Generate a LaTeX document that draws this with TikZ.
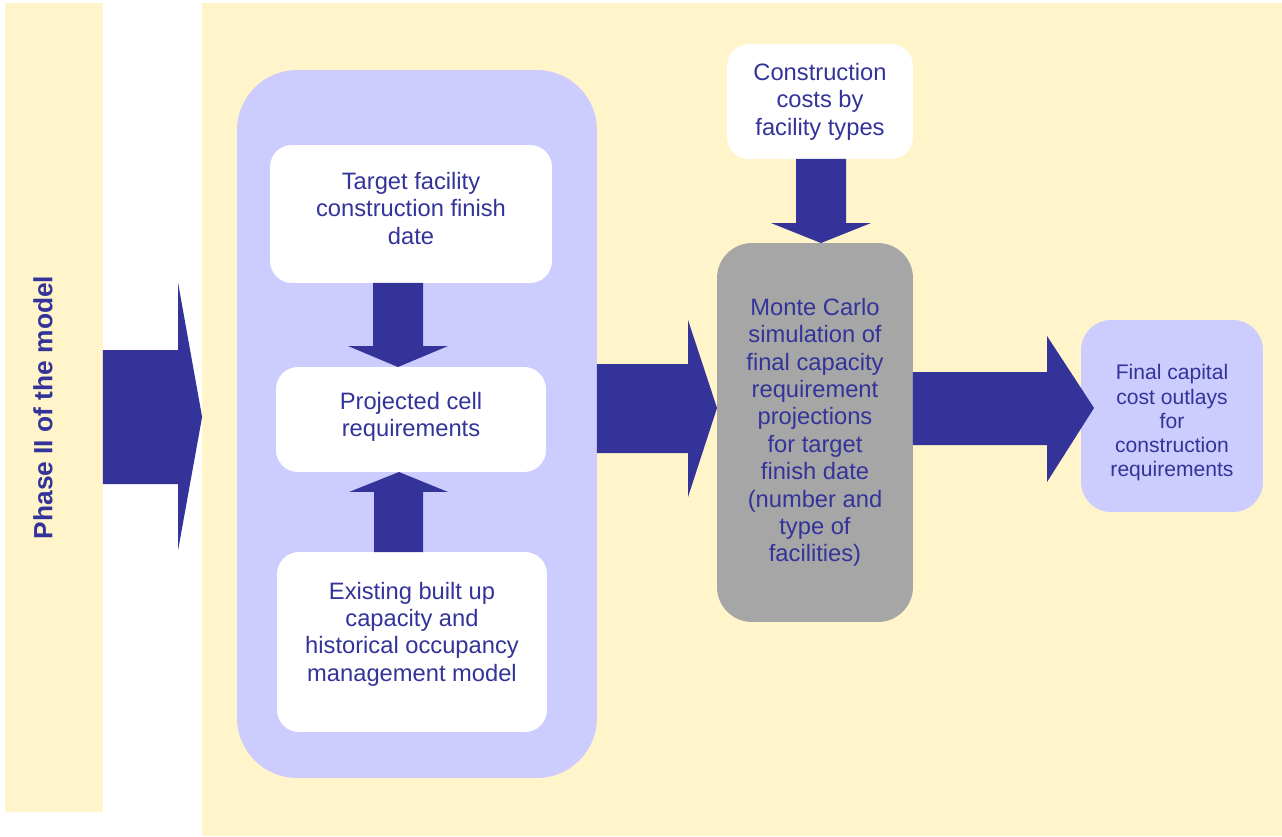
\documentclass[tikz,border=0pt]{standalone}
\usepackage{fontspec}
\setmainfont{Liberation Sans}
\usetikzlibrary{calc}
\definecolor{navy}{RGB}{51,51,153}
\definecolor{lavender}{RGB}{204,204,255}
\definecolor{cream}{RGB}{255,244,202}
\definecolor{simgray}{RGB}{166,166,166}

\begin{document}
\begin{tikzpicture}[x=0.02cm,y=-0.02cm,
    plain/.style={inner sep=0pt,outer sep=0pt},
    box/.style={plain,fill=white,rounded corners=0.44cm,text=navy,align=center,
      font=\fontsize{13.5}{15.6}\selectfont},
    bigarrow/.style={fill=navy,draw=none}]
  \useasboundingbox (0,0) rectangle (1282,836);
  \node[plain,fill=cream,minimum width=1.96cm,minimum height=16.18cm,text=navy,
    font=\fontsize{15}{18}\selectfont\bfseries] (band) at (54,407.5)
    {\rotatebox{90}{Phase II of the model}\kern0.44cm};
  \node[plain,fill=cream,minimum width=21.6cm,minimum height=16.66cm] (panel) at (742,419.5) {};
  \node[plain,fill=lavender,rounded corners=1.2cm,minimum width=7.2cm,minimum height=14.16cm] (lav) at (417,424) {};
  \begin{scope}[every node/.style={box}]
    \node[minimum width=5.64cm,minimum height=2.76cm] (target) at (411,214)
      {Target facility\\construction finish\\date\rule[-6.8pt]{0pt}{6.8pt}};
    \node[minimum width=5.4cm,minimum height=2.1cm] (proj) at (411,419.5)
      {Projected cell\\requirements\rule[-5.6pt]{0pt}{5.6pt}};
    \node[minimum width=5.4cm,minimum height=3.6cm] (exist) at (412,642)
      {Existing built up\\capacity and\\historical occupancy\\management model\rule[-11.8pt]{0pt}{11.8pt}};
    \node[minimum width=3.72cm,minimum height=2.3cm] (cost) at (820,101.5) {Construction\\costs by\\facility types};
    \node[fill=simgray,rounded corners=0.7cm,minimum width=3.92cm,minimum height=7.58cm] (sim) at (815,432.5)
      {Monte Carlo\\simulation of\\final capacity\\requirement\\projections\\for target\\finish date\\(number and\\type of\\facilities)};
    \node[fill=lavender,rounded corners=0.6cm,minimum width=3.64cm,minimum height=3.84cm,
      font=\fontsize{12}{13.8}\selectfont] (final) at (1172,416)
      {\rule{0pt}{16.6pt}Final capital\\cost outlays\\for\\construction\\requirements};
  \end{scope}
  \begin{scope}[every path/.style={bigarrow}]
    \fill ($(band.east)+(0,-57.5)$) -- ($(panel.west)+(-24,-69.5)$) -- ($(panel.west)+(-24,-136.5)$)
      -- ($(panel.west)+(0,-2.5)$) -- ($(panel.west)+(-24,130.5)$) -- ($(panel.west)+(-24,64.5)$)
      -- ($(band.east)+(0,76.5)$) -- cycle;
    \fill ($(target.south)+(-38,0)$) -- ($(proj.north)+(-38,-21)$) -- ($(proj.north)+(-63,-21)$)
      -- ($(proj.north)+(-13,0)$) -- ($(proj.north)+(37,-21)$) -- ($(proj.north)+(12,-21)$)
      -- ($(target.south)+(12,0)$) -- cycle;
    \fill ($(exist.north)+(-38,0)$) -- ($(proj.south)+(-37,20)$) -- ($(proj.south)+(-62,20)$)
      -- ($(proj.south)+(-12,0)$) -- ($(proj.south)+(37,20)$) -- ($(proj.south)+(12,20)$)
      -- ($(exist.north)+(11,0)$) -- cycle;
    \fill ($(lav.east)+(0,-60)$) -- ($(sim.west)+(-29,-68.5)$) -- ($(sim.west)+(-29,-112.5)$)
      -- ($(sim.west)+(0,-24.5)$) -- ($(sim.west)+(-29,64.5)$) -- ($(sim.west)+(-29,20.5)$)
      -- ($(lav.east)+(0,29)$) -- cycle;
    \fill ($(cost.south)+(-24,0)$) -- ($(sim.north)+(-19,-20)$) -- ($(sim.north)+(-44,-20)$)
      -- ($(sim.north)+(6,0)$) -- ($(sim.north)+(56,-20)$) -- ($(sim.north)+(31,-20)$)
      -- ($(cost.south)+(26,0)$) -- cycle;
    \fill ($(sim.east)+(0,-60.5)$) -- ($(final.west)+(-34,-44)$) -- ($(final.west)+(-34,-80)$)
      -- ($(final.west)+(13,-8)$) -- ($(final.west)+(-34,66)$) -- ($(final.west)+(-34,29)$)
      -- ($(sim.east)+(0,12.5)$) -- cycle;
  \end{scope}
\end{tikzpicture}
\end{document}
